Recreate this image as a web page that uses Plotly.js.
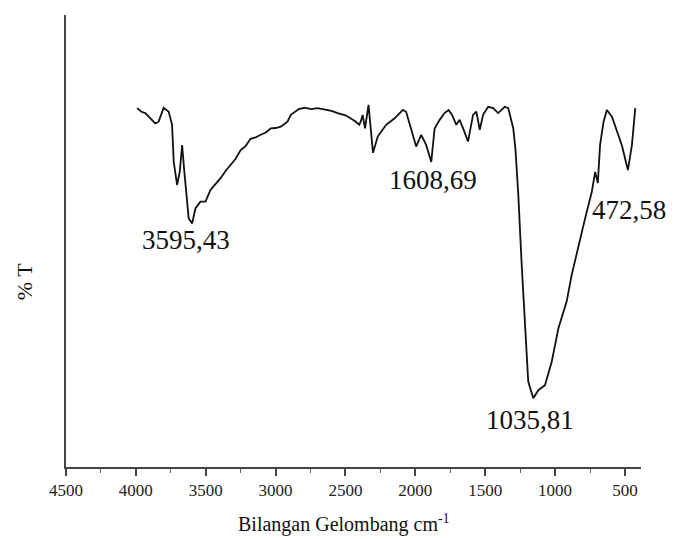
<!DOCTYPE html>
<html>
<head>
<meta charset="utf-8">
<script src="https://cdn.plot.ly/plotly-3.0.1.min.js"></script>
<style>html,body{margin:0;padding:0;background:#fff;}#chart{width:686px;height:539px;}</style>
</head>
<body>
<div id="chart"></div>
<script>
var wavenumber = [3992,3960,3933,3900,3861,3837,3801,3765,3741,3729,3705,3686,3669,3653,3622,3597,3574,3538,3502,3466,3430,3394,3358,3322,3286,3250,3215,3179,3143,3107,3070,3035,2999,2963,2915,2891,2834,2790,2748,2700,2654,2600,2556,2500,2461,2430,2401,2390,2377,2360,2335,2303,2269,2209,2150,2089,2066,2030,1994,1958,1922,1886,1862,1826,1791,1762,1737,1707,1683,1658,1623,1587,1563,1539,1515,1479,1443,1407,1360,1335,1299,1283,1263,1240,1216,1192,1156,1120,1072,1024,976,917,881,833,785,737,713,694,678,653,629,593,558,522,479,450,426];
var transmittance = [79.4,78.6,78.3,77.2,76.0,76.4,79.5,78.6,75.7,67.5,62.4,65.3,71.2,65.3,55.0,53.9,57.2,58.7,58.7,61.3,62.5,63.9,65.5,66.8,68.2,70.1,71.0,72.6,72.9,73.5,74.0,74.9,75.0,75.3,76.4,77.9,79.2,79.5,79.2,79.4,79.2,78.8,78.3,77.8,77.1,76.5,75.7,76.5,77.9,74.9,80.1,69.5,73.1,75.7,77.1,79.0,78.6,74.9,70.9,73.5,71.2,67.5,74.9,76.8,78.3,79.0,77.9,75.7,76.8,74.9,72.0,77.9,78.6,74.6,77.9,79.7,79.4,78.3,79.7,79.4,74.9,70.1,60.2,45.4,30.7,18.9,15.2,17.0,18.1,23.3,30.7,36.6,42.5,49.1,55.0,60.9,65.3,62.8,71.2,76.4,79.0,77.5,74.2,71.2,65.7,71.2,79.4];

var tickVals = [4500,4000,3500,3000,2500,2000,1500,1000,500];
var tickText = ['4500','4000','3500','3000','2500','2000','1500','1000','500'];

var peakLabels = ['3595,43','1608,69','1035,81','472,58'];
var peakLabelX = [3640,1872,1182,472];
var peakLabelY = [50.2,63.5,10.4,56.9];

var xTitle = 'Bilangan Gelombang cm<sup>-1</sup>';
var yTitle = '% T';

var serif = 'Liberation Serif';

var annotations = peakLabels.map(function(t,i){
  return {x: peakLabelX[i], y: peakLabelY[i], xref:'x', yref:'y', text: t, showarrow:false,
          xanchor:'center', yanchor:'middle', font:{family: serif, size: 27, color:'#111'}};
});
annotations.push({x: -0.072, y: 0.41, xref:'paper', yref:'paper', text: yTitle, textangle:-90,
  showarrow:false, xanchor:'center', yanchor:'middle', font:{family: serif, size: 22, color:'#111'}});
annotations.push({x: 0.483, y: -0.125, xref:'paper', yref:'paper', text: xTitle,
  showarrow:false, xanchor:'center', yanchor:'middle', font:{family: serif, size: 20, color:'#111'}});

var trace = {x: wavenumber, y: transmittance, type:'scatter', mode:'lines',
  line:{color:'#111', width:1.8}, hoverinfo:'skip'};

var layout = {
  width:686, height:539,
  margin:{l:66, r:45, t:15, b:72},
  paper_bgcolor:'#fff', plot_bgcolor:'#fff',
  showlegend:false,
  font:{family: serif, color:'#111'},
  xaxis:{range:[4500,385], showgrid:false, zeroline:false, showline:true, linecolor:'#444', linewidth:2,
    tickmode:'array', tickvals: tickVals, ticktext: tickText, ticks:'outside', ticklen:7, tickwidth:2, tickcolor:'#444',
    tickfont:{family: serif, size:17, color:'#222'},
    minor:{tickmode:'linear', tick0:4500, dtick:250, ticks:'outside', ticklen:4, tickwidth:1, tickcolor:'#666'}},
  yaxis:{range:[0,100], showgrid:false, zeroline:false, showline:true, linecolor:'#444', linewidth:2,
    showticklabels:false, ticks:''},
  annotations: annotations
};

Plotly.newPlot('chart',[trace],layout,{staticPlot:true});
</script>
</body>
</html>
